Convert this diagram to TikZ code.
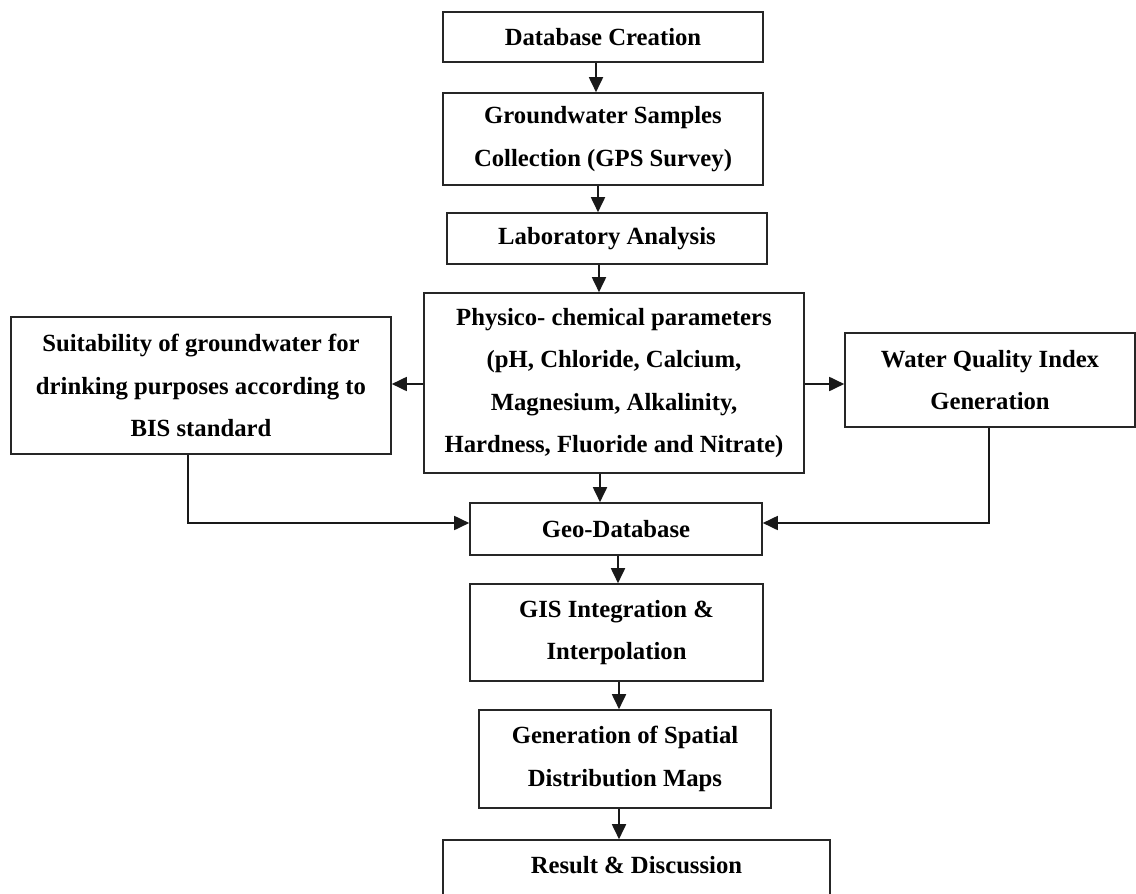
\documentclass[tikz,border=0pt]{standalone}
\usepackage{fontspec}
\setmainfont{Liberation Serif}
\usetikzlibrary{arrows.meta}
\begin{document}
\begin{tikzpicture}[x=1pt,y=-1pt,
  boxnode/.style={draw=black!85, line width=1.6pt, rectangle, inner sep=0pt,
    align=center, font=\fontsize{24.7}{42.5}\selectfont\bfseries},
  arr/.style={line width=1.8pt, draw=black!90, -{Triangle[length=15pt,width=14pt]}},
  ln/.style={line width=1.8pt, draw=black!90}]
\useasboundingbox[fill=white] (0,0) rectangle (1136,894);
\node[boxnode, minimum width=320pt, minimum height=50pt] (db) at (603,37) {Database Creation};
\node[boxnode, minimum width=320pt, minimum height=92pt] (gw) at (603,139) {Groundwater Samples\\Collection (GPS Survey)};
\node[boxnode, minimum width=320pt, minimum height=51pt] (lab) at (607,238.5) {Laboratory Analysis};
\node[boxnode, minimum width=380pt, minimum height=180pt] (phys) at (614,383) {Physico- chemical parameters\\(pH, Chloride, Calcium,\\Magnesium, Alkalinity,\\Hardness, Fluoride and Nitrate)};
\node[boxnode, minimum width=380pt, minimum height=137pt] (suit) at (201,385.5) {Suitability of groundwater for\\drinking purposes according to\\BIS standard};
\node[boxnode, minimum width=290pt, minimum height=94pt] (wqi) at (990,380) {Water Quality Index\\Generation};
\node[boxnode, minimum width=292pt, minimum height=52pt] (geo) at (616,529) {Geo-Database};
\node[boxnode, minimum width=293pt, minimum height=97pt] (gis) at (616.5,632.5) {GIS Integration \&\\Interpolation};
\node[boxnode, minimum width=292pt, minimum height=98pt] (gen) at (625,759) {Generation of Spatial\\Distribution Maps};
\node[boxnode, minimum width=387pt, minimum height=58pt, text depth=0pt] (res) at (636.5,869) {};
\node[font=\fontsize{24.7}{42.5}\selectfont\bfseries, anchor=base] (restext) at (636.5,873) {Result \& Discussion};
% vertical arrows
\draw[arr] ([xshift=-7pt]db.south) -- ([xshift=-7pt]db.south |- gw.north);
\draw[arr] ([xshift=-5pt]gw.south) -- ([xshift=-5pt]gw.south |- lab.north);
\draw[arr] ([xshift=-8pt]lab.south) -- ([xshift=-8pt]lab.south |- phys.north);
\draw[arr] ([xshift=-14pt]phys.south) -- ([xshift=-14pt]phys.south |- geo.north);
\draw[arr] ([xshift=2pt]geo.south) -- ([xshift=2pt]geo.south |- gis.north);
\draw[arr] ([xshift=2.5pt]gis.south) -- ([xshift=2.5pt]gis.south |- gen.north);
\draw[arr] ([xshift=-6pt]gen.south) -- ([xshift=-6pt]gen.south |- res.north);
% side arrows
\draw[arr] ([yshift=-1pt]phys.west) -- ([yshift=-1pt]phys.west -| suit.east);
\draw[arr] ([yshift=-1pt]phys.east) -- ([yshift=-1pt]phys.east -| wqi.west);
\draw[arr] ([xshift=-13pt]suit.south) |- ([yshift=6pt]geo.west);
\draw[arr] ([xshift=-1pt]wqi.south) |- ([yshift=6pt]geo.east);
\end{tikzpicture}
\end{document}
